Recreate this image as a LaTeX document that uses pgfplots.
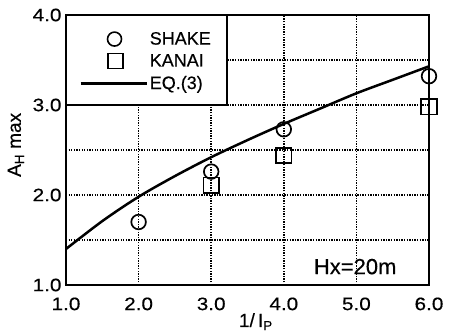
\documentclass[border=0pt]{standalone}
\usepackage{fontspec}
\setmainfont{Liberation Sans}[FakeBold=0.4]
\newfontfamily\tickfont{Liberation Sans}[FakeStretch=1.15, FakeBold=0.4]
\usepackage{pgfplots}
\pgfplotsset{compat=1.18}
\begin{document}
\begin{tikzpicture}
\begin{axis}[
  scale only axis,
  width=363pt, height=270pt,
  xmin=1, xmax=6, ymin=1, ymax=4,
  xtick={1,2,3,4,5,6},
  ytick={1,2,3,4},
  minor ytick={1.5,2.5,3.5},
  xticklabels={1.0,2.0,3.0,4.0,5.0,6.0},
  yticklabels={1.0,2.0,3.0,4.0},
  grid=both,
  major grid style={black, line width=1.5pt, dash pattern=on 1.3pt off 1.3pt},
  minor grid style={black, line width=1.5pt, dash pattern=on 1.3pt off 1.3pt},
  major tick length=0pt, minor tick length=0pt,
  axis line style={line width=1.9pt},
  tick label style={font=\tickfont\fontsize{18}{18}\selectfont},
  xticklabel style={yshift=-9pt},
  yticklabel style={xshift=-1pt},
  xlabel={1/\,I\textsubscript{P}},
  ylabel={A\textsubscript{H} max},
  label style={font=\fontsize{19}{19}\selectfont},
  xlabel style={at={(axis description cs:0.523,0)}, anchor=base, yshift=-42pt},
  ylabel style={at={(axis description cs:-0.138,0.519)}, anchor=center},
  legend style={at={(0.036,0.945)}, anchor=north west, draw=none, fill=none,
    font=\fontsize{18}{18}\selectfont, inner sep=0pt,
    row sep=4pt, cells={anchor=west}},
  legend cell align=left,
  clip=false,
]
\coordinate (bl) at (rel axis cs:0,0);
\coordinate (tr) at (rel axis cs:1,1);
\draw[line width=1.9pt, fill=white] (axis cs:1,3) rectangle (axis cs:3.22,4);
\addplot[only marks, mark=o, mark size=7.3pt, line width=1.7pt, draw=black,
  legend image code/.code={\path (0pt,0pt) (66pt,0pt);
    \draw[line width=1.6pt, mark=o, mark size=7pt] plot coordinates {(34pt,0pt)};}]
  coordinates {(2,1.70) (3,2.26) (4,2.73) (6,3.32)};
\addlegendentry{SHAKE}
\addplot[only marks, mark=square, mark size=7.7pt, line width=1.7pt, draw=black,
  legend image code/.code={\path (0pt,0pt) (66pt,0pt);
    \draw[line width=1.6pt, mark=square, mark size=7.5pt] plot coordinates {(35pt,0pt)};}]
  coordinates {(3,2.11) (4,2.44) (6,2.98)};
\addlegendentry{KANAI}
\addplot[black, line width=2.5pt, smooth,
  legend image code/.code={\draw[line width=2.5pt] (0pt,0pt) -- (66pt,0pt);}]
  coordinates {(1,1.40) (1.5,1.71) (2,1.98) (2.5,2.21) (3,2.42) (3.5,2.61) (4,2.79) (4.5,2.96) (5,3.13) (5.5,3.28) (6,3.43)};
\addlegendentry{EQ.(3)}
\node[anchor=base east, font=\fontsize{22}{22}\selectfont] at (axis cs:5.60,1.12) {Hx=20m};
\end{axis}
\pgfresetboundingbox
\path ([shift={(-66pt,-51pt)}]bl) rectangle ([shift={(20pt,15pt)}]tr);
\end{tikzpicture}
\end{document}
